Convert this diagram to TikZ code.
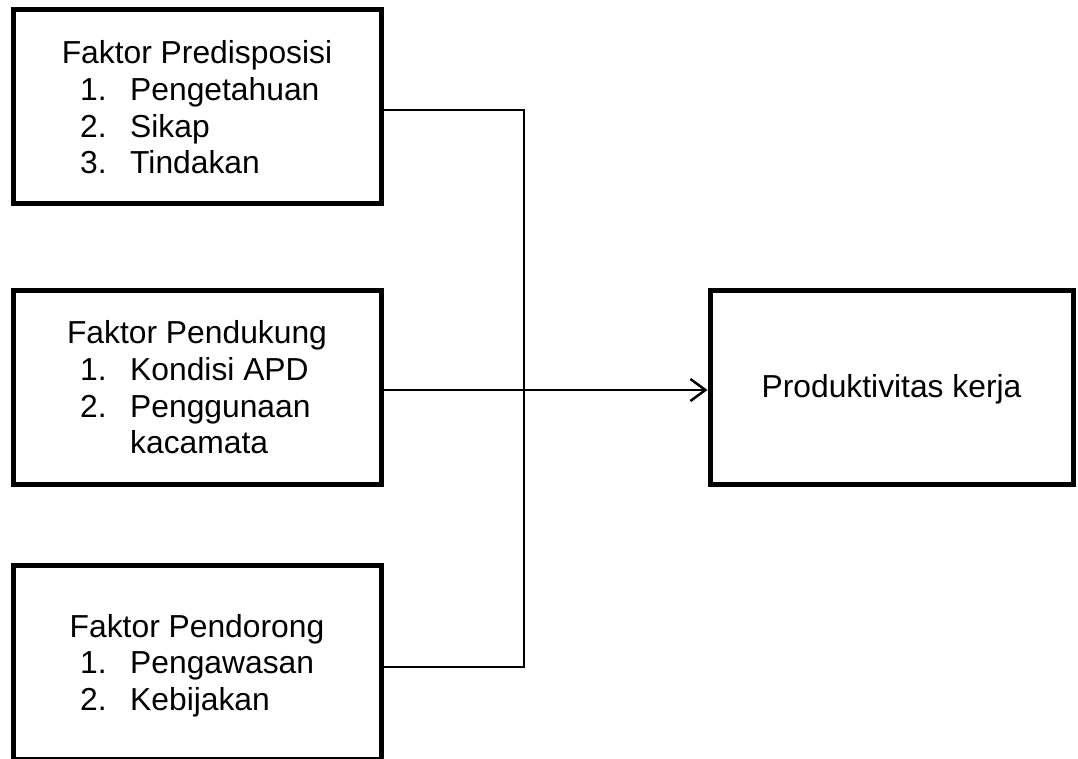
\documentclass[tikz,border=0pt]{standalone}
\usepackage{fontspec}
\setmainfont{Liberation Sans}
\usetikzlibrary{arrows.meta}
\begin{document}
\begin{tikzpicture}[x=1pt,y=-1pt,
  box/.style={draw,line width=5pt,minimum width=368pt,minimum height=194pt,inner sep=0pt},
  txt/.style={inner sep=0pt,font=\fontsize{31.8}{36.6}\selectfont},
  conn/.style={line width=2pt},
  arr/.style={line width=2.5pt,-{Straight Barb[length=15pt,width=22pt]}}]
\useasboundingbox (0,0) rectangle (1078,758);
% boxes
\node[box] (b1) at (197,106) {};
\node[box] (b2) at (197,387) {};
\node[box] (b3) at (197,662.5) {};
\node[box,minimum width=363pt] (b4) at (891.5,387) {};
% box 1 text
\node[txt,anchor=base] (t1) at (197,63) {Faktor Predisposisi};
\node[txt,anchor=base west] (n11) at (80,100) {1.};
\node[txt,anchor=base west] (i11) at (130,100) {Pengetahuan};
\node[txt,anchor=base west] (n12) at (80,137) {2.};
\node[txt,anchor=base west] (i12) at (130,137) {Sikap};
\node[txt,anchor=base west] (n13) at (80,173) {3.};
\node[txt,anchor=base west] (i13) at (130,173) {Tindakan};
% box 2 text
\node[txt,anchor=base] (t2) at (197,343) {Faktor Pendukung};
\node[txt,anchor=base west] (n21) at (80,380) {1.};
\node[txt,anchor=base west] (i21) at (130,380) {Kondisi APD};
\node[txt,anchor=base west] (n22) at (80,417) {2.};
\node[txt,anchor=base west] (i22) at (130,417) {Penggunaan};
\node[txt,anchor=base west] (i23) at (130,453) {kacamata};
% box 3 text
\node[txt,anchor=base] (t3) at (197,637) {Faktor Pendorong};
\node[txt,anchor=base west] (n31) at (80,673) {1.};
\node[txt,anchor=base west] (i31) at (130,673) {Pengawasan};
\node[txt,anchor=base west] (n32) at (80,710) {2.};
\node[txt,anchor=base west] (i32) at (130,710) {Kebijakan};
% box 4 text
\node[txt,anchor=base] (t4) at (891.5,397) {Produktivitas kerja};
% connectors
\coordinate (j1) at (524,110);
\coordinate (j3) at (524,667);
\coordinate (a) at (0,390);
\draw[conn] (b1.east |- j1) -- (j1) -- (j3) -- (b3.east |- j3);
\draw[arr] (b2.east |- a) -- (b4.west |- a);
\end{tikzpicture}
\end{document}
